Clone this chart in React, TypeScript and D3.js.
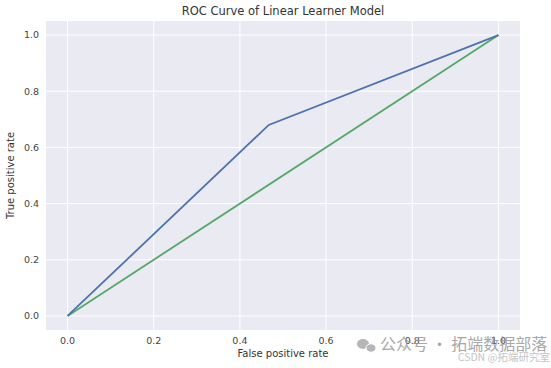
import React from "react";
import * as d3 from "d3";

const fpr = [0, 0.467, 1];
const tprModel = [0, 0.68, 1];
const baseline = [0, 1];
const xTicks = [0, 0.2, 0.4, 0.6, 0.8, 1.0];
const yTicks = [0, 0.2, 0.4, 0.6, 0.8, 1.0];
const title = "ROC Curve of Linear Learner Model";
const xLabel = "False positive rate";
const yLabel = "True positive rate";

const W = 551, H = 368;
const L = 46, R = 520, T = 21, B = 330;

export default function App() {
  const x = d3.scaleLinear().domain([-0.05, 1.05]).range([L, R]);
  const y = d3.scaleLinear().domain([-0.05, 1.05]).range([B, T]);
  const line = d3.line<[number, number]>().x(d => x(d[0])).y(d => y(d[1]));
  const modelPts: [number, number][] = fpr.map((f, i) => [f, tprModel[i]]);
  const basePts: [number, number][] = baseline.map(v => [v, v]);
  const font = "DejaVu Sans, sans-serif";
  return (
    <svg width={W} height={H} style={{ position: "absolute", left: 0, top: 0, background: "#fff" }}>
      <rect x={0} y={0} width={W} height={H} fill="#fff" />
      <rect x={L} y={T} width={R - L} height={B - T} fill="#EAEAF2" />
      {xTicks.map(t => (
        <line key={"gx" + t} x1={x(t)} x2={x(t)} y1={T} y2={B} stroke="#fff" strokeWidth={1} />
      ))}
      {yTicks.map(t => (
        <line key={"gy" + t} x1={L} x2={R} y1={y(t)} y2={y(t)} stroke="#fff" strokeWidth={1} />
      ))}
      <path d={line(basePts) || ""} fill="none" stroke="#55A868" strokeWidth={1.8} />
      <path d={line(modelPts) || ""} fill="none" stroke="#4C72B0" strokeWidth={1.8} />
      {xTicks.map(t => (
        <text key={"tx" + t} x={x(t)} y={B + 14} textAnchor="middle" fontFamily={font} fontSize={9.5} fill="#444">
          {t.toFixed(1)}
        </text>
      ))}
      {yTicks.map(t => (
        <text key={"ty" + t} x={L - 7} y={y(t)} dy="0.35em" textAnchor="end" fontFamily={font} fontSize={9.5} fill="#444">
          {t.toFixed(1)}
        </text>
      ))}
      <text x={(L + R) / 2} y={B + 27} textAnchor="middle" fontFamily={font} fontSize={10} fill="#333">{xLabel}</text>
      <text transform={`translate(${14},${(T + B) / 2}) rotate(-90)`} textAnchor="middle" fontFamily={font} fontSize={10} fill="#333">{yLabel}</text>
      <text x={(L + R) / 2} y={15} textAnchor="middle" fontFamily={font} fontSize={11.5} fill="#333">{title}</text>
      <g opacity={0.85}>
        <ellipse cx={363} cy={344} rx={6} ry={5} fill="#aaa" />
        <ellipse cx={371} cy={348} rx={5} ry={4.2} fill="#aaa" stroke="#fff" strokeWidth={1} />
        <text x={380} y={350} fontFamily="Noto Sans CJK SC, sans-serif" fontSize={16} fill="#999">公众号 · 拓端数据部落</text>
        <text x={550} y={361} textAnchor="end" fontFamily="Noto Sans CJK SC, sans-serif" fontSize={10.5} fill="#bbb">CSDN @拓端研究室</text>
      </g>
    </svg>
  );
}
